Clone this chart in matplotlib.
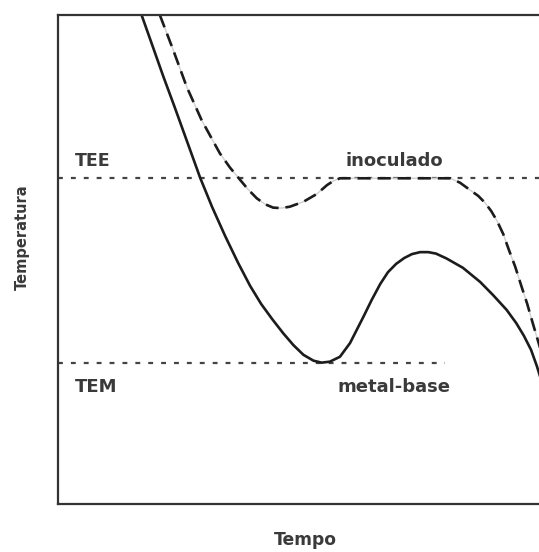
import matplotlib
matplotlib.use('Agg')
import matplotlib.pyplot as plt

# reference levels (temperature, arbitrary units 0-100)
tee_level = 66.7
tem_level = 28.9
tem_end = 80.6

# metal-base cooling curve (solid)
base_time = [17.4, 19.6, 21.9, 24.2, 26.7, 29.6, 32.1, 34.8, 37.5, 40.0, 42.3, 44.6,
             46.9, 49.0, 51.1, 53.2, 54.9, 56.6, 58.7, 60.8, 62.2, 63.6, 65.3, 67.1,
             68.7, 70.4, 72.1, 73.7, 75.4, 77.1, 78.7, 80.9, 84.3, 87.9, 90.6, 93.4,
             95.4, 97.0, 98.5, 99.7, 101.0]
base_temp = [100.0, 93.9, 87.5, 81.4, 74.6, 66.7, 60.7, 54.8, 49.3, 44.6, 40.9, 37.8,
             34.9, 32.5, 30.5, 29.3, 28.9, 29.1, 30.1, 32.9, 35.6, 38.3, 41.7, 45.0,
             47.4, 49.1, 50.3, 51.1, 51.5, 51.5, 51.2, 50.2, 48.3, 45.4, 42.7, 39.7,
             37.0, 34.4, 31.5, 28.2, 24.1]

# inoculated cooling curve (dashed)
inoc_time = [21.2, 24.0, 26.8, 29.9, 33.7, 35.8, 37.9, 39.6, 41.4, 43.1, 44.8, 46.5,
             48.3, 51.1, 53.9, 56.0, 57.4, 58.7, 81.7, 83.7, 85.8, 87.5, 88.9, 90.2,
             91.4, 92.7, 93.9, 95.2, 96.4, 97.7, 98.9, 100.2, 101.0]
inoc_temp = [100.0, 92.8, 85.3, 78.5, 71.7, 68.8, 66.3, 64.3, 62.5, 61.3, 60.6, 60.5,
             60.8, 61.8, 63.4, 65.2, 66.1, 66.6, 66.6, 65.7, 64.2, 63.0, 61.6, 59.9,
             57.9, 55.2, 51.9, 48.5, 44.8, 40.9, 36.8, 32.5, 29.7]

plt.rcParams['font.family'] = ['DejaVu Sans']
txt_color = '#3a3a3a'
line_color = '#1c1c1c'

fig = plt.figure(figsize=(5.39, 5.52), dpi=100)
ax = fig.add_axes([0.1076, 0.087, 0.9, 0.8859])
ax.set_xlim(0, 101)
ax.set_ylim(0, 100)

ax.plot([0, 101], [tee_level, tee_level], color='#444444', lw=1.6, ls=(0, (2.2, 3.6)))
ax.plot([0, tem_end], [tem_level, tem_level], color='#444444', lw=1.6, ls=(0, (2.2, 3.6)))

ax.plot(base_time, base_temp, color=line_color, lw=1.9, solid_joinstyle='round')
ax.plot(inoc_time, inoc_temp, color='#d0d0d0', lw=1.0)
ax.plot(inoc_time, inoc_temp, color=line_color, lw=1.9, ls=(0, (5, 2.6)),
        dash_capstyle='butt', dash_joinstyle='round')

ax.text(3.5, 69.1, 'TEE', fontsize=12.5, fontweight='bold', color=txt_color, va='baseline')
ax.text(59.8, 69.1, 'inoculado', fontsize=13, fontweight='bold', color=txt_color, va='baseline')
ax.text(3.5, 22.9, 'TEM', fontsize=13, fontweight='bold', color=txt_color, va='baseline')
ax.text(58.1, 22.8, 'metal-base', fontsize=13, fontweight='bold', color=txt_color, va='baseline')

fig.text(0.042, 0.571, 'Temperatura', fontsize=10.5, fontweight='bold', color=txt_color,
         rotation=90, ha='center', va='center')
fig.text(0.567, 0.0217, 'Tempo', fontsize=12.3, fontweight='bold', color=txt_color,
         ha='center', va='center')

ax.set_xticks([])
ax.set_yticks([])
for side in ['left', 'bottom', 'top']:
    ax.spines[side].set_color('#333333')
    ax.spines[side].set_linewidth(1.6)
ax.spines['right'].set_visible(False)

fig.savefig('out.png', dpi=100)
